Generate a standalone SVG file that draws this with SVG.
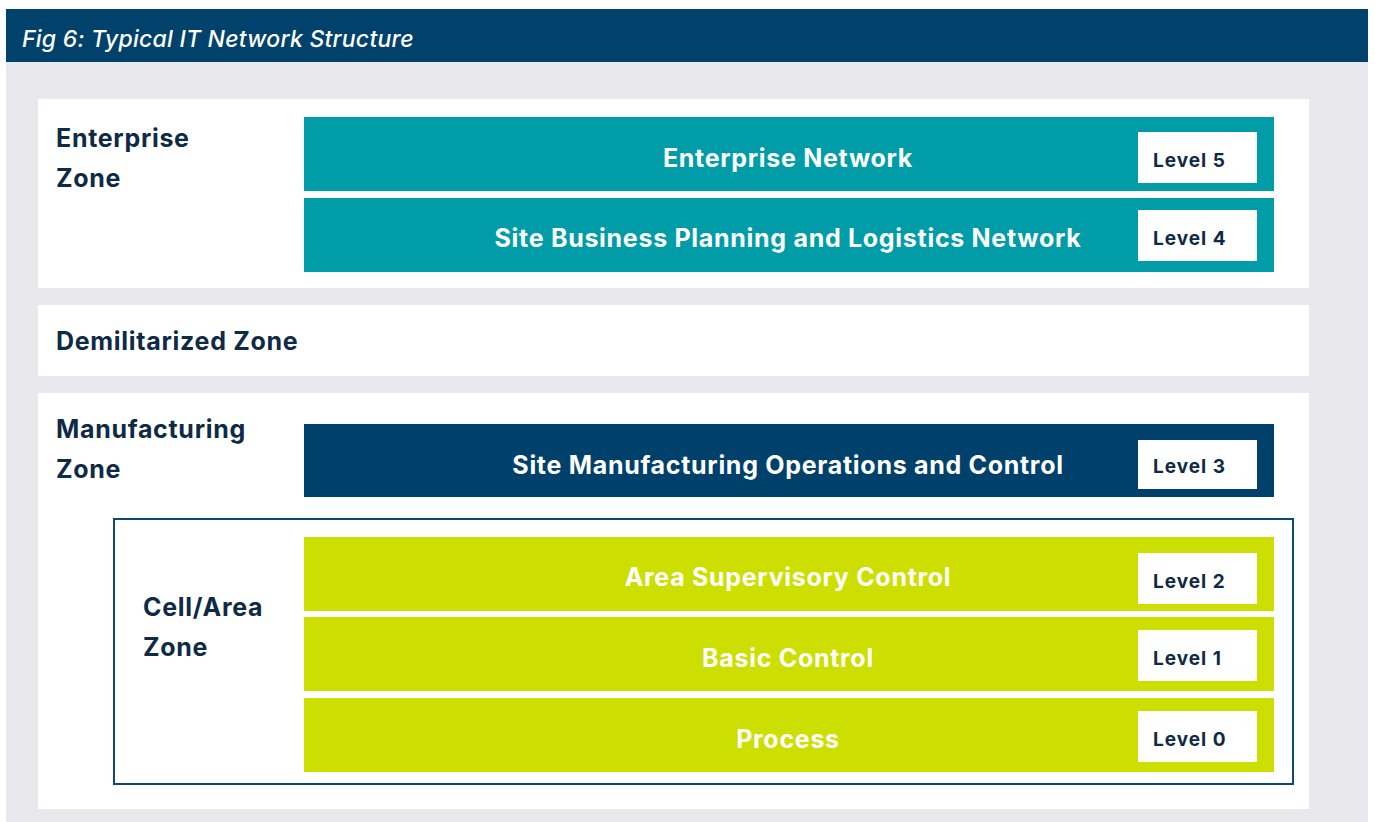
<svg xmlns="http://www.w3.org/2000/svg" width="1375" height="822" viewBox="0 0 1375 822">
  <style>
    .zone { font-family: Inter, "Noto Sans", sans-serif; font-weight: 700; font-size: 25px; letter-spacing: 0.7px; fill: #0e2a44; }
    .bar-label { font-family: Inter, "Noto Sans", sans-serif; font-weight: 700; font-size: 25px; letter-spacing: 0.7px; fill: #ffffff; text-anchor: middle; }
    .level { font-family: Inter, "Noto Sans", sans-serif; font-weight: 700; font-size: 19px; letter-spacing: 1px; fill: #0e2a44; }
    .level-box { fill: #ffffff; }
    .teal { fill: #009ca8; }
    .navy { fill: #00416b; }
    .lime { fill: #cddf00; }
    .panel { fill: #ffffff; }
  </style>

  <rect x="0" y="0" width="1375" height="822" fill="#ffffff"/>

  <!-- Title bar -->
  <g id="title">
    <rect x="6" y="9" width="1362" height="53" fill="#00426b"/>
    <text x="22" y="47" font-family="Inter, 'Noto Sans', sans-serif" font-style="italic" font-weight="500" font-size="23" letter-spacing="0.25" fill="#ffffff">Fig 6: Typical IT Network Structure</text>
  </g>

  <!-- Background -->
  <rect x="6" y="62" width="1362" height="760" fill="#e8e8ed"/>

  <!-- Enterprise zone -->
  <g id="enterprise-zone">
    <rect class="panel" x="38" y="99" width="1271" height="189"/>
    <text class="zone" x="56" y="147">Enterprise</text>
    <text class="zone" x="56" y="187">Zone</text>
  </g>

  <g id="level-5">
    <rect class="teal" x="304" y="117" width="970" height="74"/>
    <text class="bar-label" x="788" y="167">Enterprise Network</text>
    <rect class="level-box" x="1138" y="132" width="119" height="51"/>
    <text class="level" x="1153" y="167">Level 5</text>
  </g>

  <g id="level-4">
    <rect class="teal" x="304" y="198" width="970" height="74"/>
    <text class="bar-label" x="788" y="247">Site Business Planning and Logistics Network</text>
    <rect class="level-box" x="1138" y="210" width="119" height="51"/>
    <text class="level" x="1153" y="245">Level 4</text>
  </g>

  <!-- Demilitarized zone -->
  <g id="dmz">
    <rect class="panel" x="38" y="305" width="1271" height="71"/>
    <text class="zone" x="56" y="350">Demilitarized Zone</text>
  </g>

  <!-- Manufacturing zone -->
  <g id="manufacturing-zone">
    <rect class="panel" x="38" y="393" width="1271" height="416"/>
    <text class="zone" x="56" y="438">Manufacturing</text>
    <text class="zone" x="56" y="478">Zone</text>
  </g>

  <g id="level-3">
    <rect class="navy" x="304" y="424" width="970" height="73"/>
    <text class="bar-label" x="788" y="474">Site Manufacturing Operations and Control</text>
    <rect class="level-box" x="1138" y="440" width="119" height="49"/>
    <text class="level" x="1153" y="473">Level 3</text>
  </g>

  <!-- Cell/Area zone -->
  <g id="cell-area-zone">
    <rect x="114" y="519" width="1179" height="265" fill="none" stroke="#0b4a74" stroke-width="2"/>
    <text class="zone" x="143" y="616">Cell/Area</text>
    <text class="zone" x="143" y="656">Zone</text>
  </g>

  <g id="level-2">
    <rect class="lime" x="304" y="537" width="970" height="74"/>
    <text class="bar-label" x="788" y="586">Area Supervisory Control</text>
    <rect class="level-box" x="1138" y="553" width="119" height="51"/>
    <text class="level" x="1153" y="588">Level 2</text>
  </g>

  <g id="level-1">
    <rect class="lime" x="304" y="617" width="970" height="74"/>
    <text class="bar-label" x="788" y="667">Basic Control</text>
    <rect class="level-box" x="1138" y="630" width="119" height="51"/>
    <text class="level" x="1153" y="665">Level 1</text>
  </g>

  <g id="level-0">
    <rect class="lime" x="304" y="698" width="970" height="74"/>
    <text class="bar-label" x="788" y="748">Process</text>
    <rect class="level-box" x="1138" y="711" width="119" height="51"/>
    <text class="level" x="1153" y="746">Level 0</text>
  </g>

  <!-- No connectors in this layered diagram -->
  <g id="connectors"/>
</svg>
